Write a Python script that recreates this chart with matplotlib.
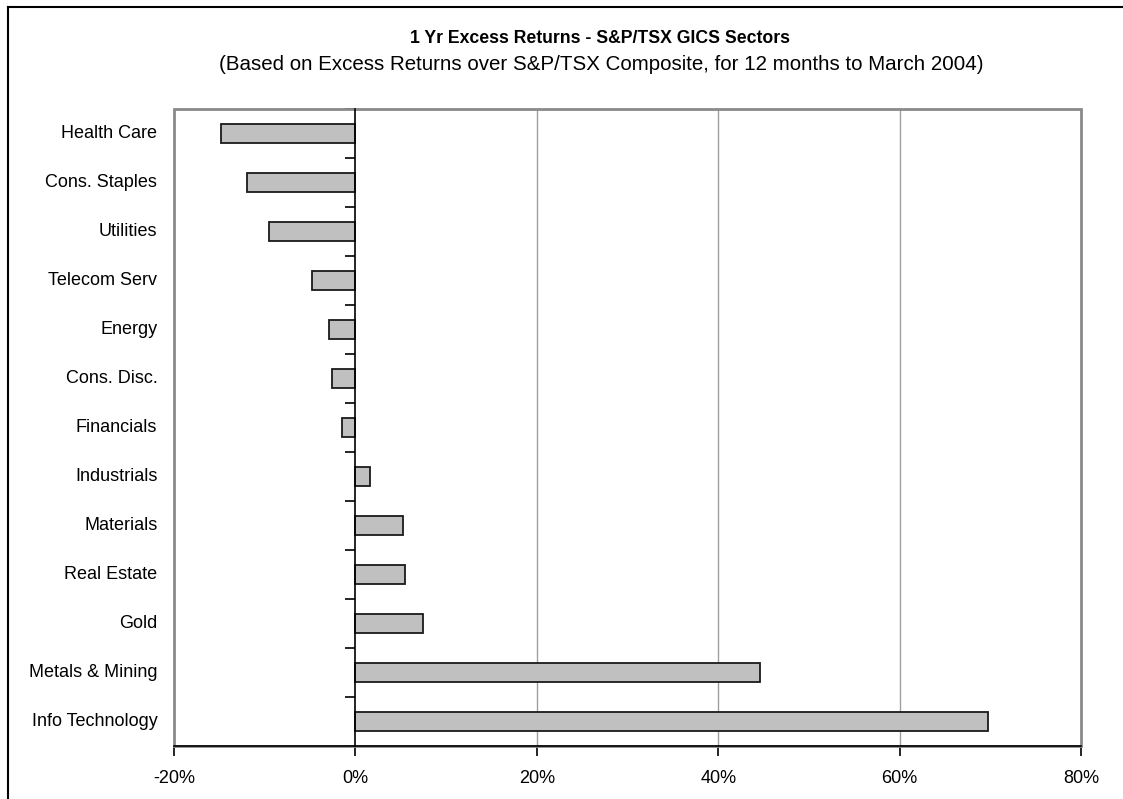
import matplotlib.pyplot as plt
from matplotlib.lines import Line2D
from matplotlib.patches import Rectangle
from matplotlib.ticker import FixedLocator, FuncFormatter
import matplotlib.transforms as mtransforms

plt.rcParams['font.family'] = ['Liberation Sans', 'DejaVu Sans']

# Data (top to bottom), excess return in %
SECTORS = ["Health Care", "Cons. Staples", "Utilities", "Telecom Serv", "Energy",
           "Cons. Disc.", "Financials", "Industrials", "Materials", "Real Estate",
           "Gold", "Metals & Mining", "Info Technology"]
RETURNS = [-14.8, -12.0, -9.5, -4.8, -2.9, -2.6, -1.5, 1.6, 5.2, 5.5, 7.4, 44.6, 69.8]
X_TICKS = [-20, 0, 20, 40, 60, 80]

W, H = 1123, 799
fig = plt.figure(figsize=(W / 100, H / 100), dpi=100)
ax = fig.add_axes([174 / W, 1 - 746 / H, (1081 - 174) / W, (746 - 109) / H])

ypos = list(range(len(SECTORS)))
ax.barh(ypos, RETURNS, height=0.4, color='#c0c0c0', edgecolor='#1a1a1a',
        linewidth=1.3, zorder=3)

ax.set_xlim(-20, 80)
ax.set_ylim(len(SECTORS) - 0.5, -0.5)

# vertical gridlines
for x in X_TICKS[2:-1]:
    ax.axvline(x, color='#a0a0a0', linewidth=1.0, zorder=1)

# category axis at zero
ax.spines['left'].set_position(('data', 0))
ax.spines['left'].set_color('black')
ax.spines['left'].set_linewidth(1.2)
ax.spines['left'].set_zorder(4)
ax.spines['top'].set_visible(False)
ax.spines['right'].set_visible(False)
ax.spines['bottom'].set_color('black')
ax.spines['bottom'].set_linewidth(1.2)
ax.spines['bottom'].set_zorder(4)

ax.yaxis.set_major_locator(FixedLocator([]))
ax.yaxis.set_minor_locator(FixedLocator([i - 0.5 for i in range(len(SECTORS) + 1)]))
ax.tick_params(axis='y', which='minor', direction='out', length=7, width=1.2,
               color='black')

# plot area frame (gray)
ax.add_patch(Rectangle((0, 0), 1, 1, transform=ax.transAxes, fill=False,
                       edgecolor='#8a8a8a', linewidth=2, zorder=2, clip_on=False))

# category labels at the left edge of the plot
blend = mtransforms.blended_transform_factory(ax.transAxes, ax.transData)
for y, name in zip(ypos, SECTORS):
    ax.annotate(name, xy=(0, y), xycoords=blend, xytext=(-12, 0),
                textcoords='offset points', ha='right', va='center', fontsize=13)

ax.set_xticks(X_TICKS)
ax.xaxis.set_major_formatter(FuncFormatter(lambda v, p: f"{v:.0f}%"))
ax.tick_params(axis='x', direction='out', length=7, width=1.2, labelsize=13, pad=10)

# titles
fig.text(600 / W, 1 - 43 / H, "1 Yr Excess Returns - S&P/TSX GICS Sectors",
         ha='center', va='baseline', fontsize=12.7, fontweight='bold')
fig.text(601 / W, 1 - 70 / H,
         "(Based on Excess Returns over S&P/TSX Composite, for 12 months to March 2004)",
         ha='center', va='baseline', fontsize=14.8)

# chart border
fig.add_artist(Line2D([8 / W, 8 / W], [0, 1 - 7 / H], color='black', linewidth=1.5))
fig.add_artist(Line2D([8 / W, 1], [1 - 7 / H, 1 - 7 / H], color='black', linewidth=1.5))

fig.savefig('out.png', dpi=100)
